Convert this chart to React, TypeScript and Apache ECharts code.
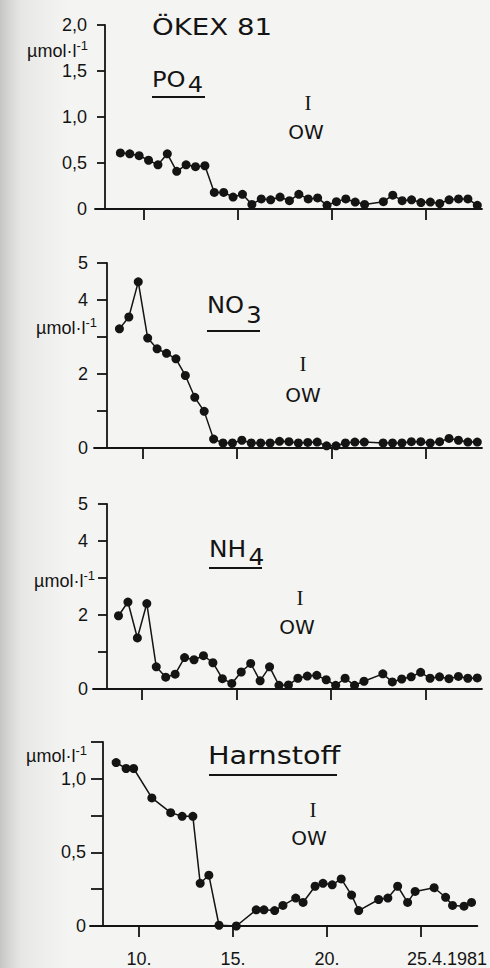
import React, { useEffect, useRef } from 'react';
import * as echarts from 'echarts';

// ---- data (days of April 1981, values in µmol/l) ----
const sampleDays = [
  8.75, 9.25, 9.75, 10.25, 10.75, 11.25, 11.75, 12.25, 12.75, 13.25,
  13.75, 14.25, 14.75, 15.25, 15.75, 16.25, 16.75, 17.25, 17.75, 18.25,
  18.75, 19.25, 19.75, 20.25, 20.75, 21.25, 21.75,
  22.75, 23.25, 23.75, 24.25, 24.75, 25.25, 25.75, 26.25, 26.75, 27.25, 27.75,
];
const po4Values = [
  0.61, 0.60, 0.58, 0.53, 0.48, 0.60, 0.41, 0.48, 0.46, 0.47,
  0.18, 0.18, 0.13, 0.16, 0.05, 0.11, 0.10, 0.13, 0.09, 0.16,
  0.11, 0.12, 0.04, 0.08, 0.11, 0.075, 0.05,
  0.08, 0.15, 0.09, 0.10, 0.07, 0.075, 0.06, 0.10, 0.11, 0.11, 0.04,
];
const no3Values = [
  3.22, 3.54, 4.49, 2.97, 2.68, 2.56, 2.41, 1.96, 1.37, 0.99,
  0.24, 0.135, 0.135, 0.21, 0.135, 0.135, 0.135, 0.18, 0.17, 0.135,
  0.15, 0.16, 0.06, 0.06, 0.135, 0.16, 0.16,
  0.135, 0.135, 0.135, 0.17, 0.17, 0.135, 0.17, 0.26, 0.21, 0.16, 0.16,
];
const nh4Values = [
  1.98, 2.35, 1.38, 2.31, 0.60, 0.32, 0.40, 0.85, 0.79, 0.90,
  0.71, 0.28, 0.15, 0.46, 0.69, 0.22, 0.60, 0.10, 0.11, 0.29,
  0.35, 0.37, 0.25, 0.10, 0.29, 0.10, 0.21,
  0.41, 0.19, 0.27, 0.33, 0.45, 0.29, 0.33, 0.28, 0.34, 0.29, 0.30,
];
const ureaDays = [
  8.79, 9.32, 9.72, 10.69, 11.69, 12.3, 12.87, 13.26, 13.72, 14.26,
  15.18, 16.24, 16.65, 17.22, 17.66, 18.34, 18.73, 19.37, 19.79, 20.28,
  20.76, 21.31, 21.69, 22.75, 23.24, 23.76, 24.29, 24.69, 25.7, 26.31,
  26.68, 27.29, 27.69,
];
const ureaValues = [
  1.11, 1.07, 1.07, 0.87, 0.77, 0.745, 0.745, 0.29, 0.345, 0.005,
  0, 0.11, 0.11, 0.105, 0.14, 0.19, 0.16, 0.27, 0.29, 0.28,
  0.32, 0.21, 0.105, 0.18, 0.19, 0.27, 0.16, 0.235, 0.26, 0.195,
  0.14, 0.135, 0.16,
];

// ---- tick labels ----
const xTickDays = [10, 15, 20, 25];
const xTickLabels = ['10.', '15.', '20.', '25.4.1981'];
const po4YTicks = [0, 0.5, 1, 1.5, 2];
const po4YLabels = ['0', '0,5', '1,0', '1,5', '2,0'];
const nYTicks = [0, 1, 2, 3, 4, 5];
const nYLabels = ['0', '', '2', '', '4', '5'];
const ureaYTicks = [0, 0.25, 0.5, 0.75, 1, 1.25];
const ureaYLabels = ['0', '', '0,5', '', '1,0', ''];

const INK = '#141414';
const NUM_FONT = '"Liberation Sans", Arial, sans-serif';
const TITLE_FONT = '"DejaVu Sans", sans-serif';
const SERIF = '"Liberation Serif", serif';

const lookup = (ticks: number[], labels: string[]) => (v: number) => {
  const i = ticks.findIndex((t) => Math.abs(t - v) < 1e-6);
  return i >= 0 ? labels[i] : '';
};

function title(x: number, y: number, main: string, sub: string, size: number, pad: number, scaleX: number) {
  const base = { fontSize: size, fontFamily: TITLE_FONT, fill: INK, lineHeight: size + 5, verticalAlign: 'top' };
  return {
    type: 'text',
    x,
    y,
    scaleX,
    style: {
      text: sub ? `{a|${main}}{b|${sub}}` : `{a|${main}}`,
      align: 'left',
      verticalAlign: 'middle',
      fill: INK,
      fontFamily: TITLE_FONT,
      fontSize: size,
      rich: {
        a: base,
        b: { ...base, padding: [pad, 0, 0, 2] },
      },
    },
  };
}

function unitLabel(xRight: number, y: number) {
  return {
    type: 'text',
    x: xRight,
    y,
    style: {
      text: '{m|\u00b5mol\u00b7l}{s|-1}',
      align: 'right',
      verticalAlign: 'middle',
      fill: INK,
      fontFamily: NUM_FONT,
      rich: {
        m: { fontSize: 18, lineHeight: 22, padding: [3, 0, 0, 0], verticalAlign: 'top', fontFamily: NUM_FONT, fill: INK },
        s: { fontSize: 13, lineHeight: 14, verticalAlign: 'top', fontFamily: NUM_FONT, fill: INK },
      },
    },
  };
}

function plain(x: number, y: number, text: string, size: number, family: string) {
  return {
    type: 'text',
    x,
    y,
    style: { text, fontSize: size, fontFamily: family, fill: INK, align: 'center', verticalAlign: 'middle' },
  };
}

function underline(x1: number, x2: number, y: number) {
  return { type: 'line', shape: { x1, y1: y, x2, y2: y }, style: { stroke: INK, lineWidth: 2 } };
}

export default function App() {
  const ref = useRef<HTMLDivElement>(null);

  useEffect(() => {
    if (!ref.current) return;
    const chart = echarts.init(ref.current, undefined, { renderer: 'svg' });

    const panels = [
      { grid: { left: 95, top: 25, width: 387, height: 184 }, max: 2, interval: 0.5, off: -10, tick: 8, margin: 18,
        fmt: lookup(po4YTicks, po4YLabels), days: sampleDays, vals: po4Values },
      { grid: { left: 94, top: 263, width: 388, height: 185 }, max: 5, interval: 1, off: -13, tick: 10, margin: 19,
        fmt: lookup(nYTicks, nYLabels), days: sampleDays, vals: no3Values },
      { grid: { left: 93, top: 504, width: 389, height: 185 }, max: 5, interval: 1, off: -14, tick: 9, margin: 19,
        fmt: lookup(nYTicks, nYLabels), days: sampleDays, vals: nh4Values },
      { grid: { left: 90, top: 742, width: 390, height: 184 }, max: 1.25, interval: 0.25, off: -13, tick: 12, margin: 17,
        fmt: lookup(ureaYTicks, ureaYLabels), days: ureaDays, vals: ureaValues },
    ];

    const axisLineStyle = { color: INK, width: 1.8 };

    const option: any = {
      animation: false,
      backgroundColor: '#f4f4f2',
      grid: panels.map((p) => p.grid),
      xAxis: panels.map((p, k) => ({
        gridIndex: k,
        type: 'value',
        min: 7.4,
        max: 28,
        axisLine: { show: true, onZero: false, lineStyle: axisLineStyle },
        axisTick: { show: true, length: 11, customValues: xTickDays, lineStyle: axisLineStyle },
        axisLabel: {
          show: k === 3,
          customValues: xTickDays,
          margin: 24,
          fontSize: 18,
          color: INK,
          fontFamily: NUM_FONT,
          formatter: (v: number) => {
            const s = lookup(xTickDays, xTickLabels)(v);
            return s.length > 4 ? `{w|${s}}` : s;
          },
          rich: { w: { fontSize: 18, color: INK, fontFamily: NUM_FONT, padding: [0, 0, 0, 52] } },
        },
        splitLine: { show: false },
      })),
      yAxis: panels.map((p, k) => ({
        gridIndex: k,
        type: 'value',
        min: 0,
        max: p.max,
        interval: p.interval,
        offset: p.off,
        axisLine: { show: true, lineStyle: axisLineStyle },
        axisTick: { show: true, length: p.tick, lineStyle: axisLineStyle },
        axisLabel: { formatter: p.fmt, margin: p.margin, fontSize: 18, color: INK, fontFamily: NUM_FONT },
        splitLine: { show: false },
      })),
      series: panels.map((p, k) => ({
        type: 'line',
        xAxisIndex: k,
        yAxisIndex: k,
        data: p.days.map((d, i) => [d, p.vals[i]]),
        symbol: 'circle',
        symbolSize: 9,
        showAllSymbol: true,
        itemStyle: { color: INK },
        lineStyle: { color: INK, width: 1.5 },
      })),
      graphic: [
        {
          type: 'rect',
          z: -100,
          silent: true,
          shape: { x: 0, y: 0, width: 70, height: 968 },
          style: {
            fill: new echarts.graphic.LinearGradient(0, 0, 1, 0, [
              { offset: 0, color: 'rgba(140,140,140,0.45)' },
              { offset: 0.3, color: 'rgba(170,170,170,0.18)' },
              { offset: 1, color: 'rgba(190,190,190,0)' },
            ]),
          },
        },
        title(152, 29, '\u00d6KEX 81', '', 23, 0, 1.2),
        title(152, 82, 'PO', '4', 21, 5, 1.15),
        underline(152, 205, 97),
        plain(308, 103, 'I', 21, SERIF),
        plain(306, 132, 'OW', 20, TITLE_FONT),
        unitLabel(88, 50),

        title(207, 308, 'NO', '3', 23, 10, 1.05),
        underline(207, 260, 331),
        plain(303, 364, 'I', 21, SERIF),
        plain(303, 395, 'OW', 20, TITLE_FONT),
        unitLabel(97, 327),

        title(209, 552, 'NH', '4', 23, 8, 1.08),
        underline(209, 262, 568),
        plain(300, 598, 'I', 21, SERIF),
        plain(297, 627, 'OW', 20, TITLE_FONT),
        unitLabel(95, 580),

        title(208, 758, 'Harnstoff', '', 25, 0, 1.15),
        underline(209, 337, 775),
        plain(313, 810, 'I', 21, SERIF),
        plain(309, 838, 'OW', 20, TITLE_FONT),
        unitLabel(87, 755),
      ],
    };

    chart.setOption(option);
    return () => chart.dispose();
  }, []);

  return (
    <div
      ref={ref}
      style={{ position: 'absolute', left: 0, top: 0, width: 490, height: 968 }}
    />
  );
}
